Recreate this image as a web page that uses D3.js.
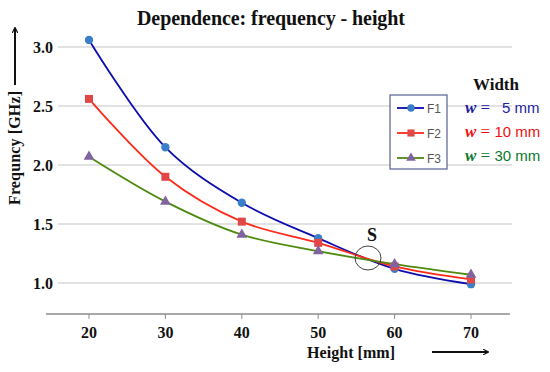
<!DOCTYPE html>
<html>
<head>
<meta charset="utf-8">
<script src="https://cdn.jsdelivr.net/npm/d3@7"></script>
<style>
  body { margin: 0; background: #fff; }
  svg { display: block; }
</style>
</head>
<body>
<svg id="chart" width="550" height="372"></svg>
<script>
// heights (mm) on the x axis
var heights = [20, 30, 40, 50, 60, 70]
var yTicks = [1.0, 1.5, 2.0, 2.5, 3.0]
var seriesNames = ["F1", "F2", "F3"]
var f1 = [3.06, 2.15, 1.68, 1.38, 1.12, 0.99]
var f2 = [2.56, 1.90, 1.52, 1.34, 1.14, 1.03]
var f3 = [2.07, 1.69, 1.41, 1.27, 1.16, 1.07]
var widthLabels = ["5", "10", "30"]

var lineColors = ["#0c0cb0", "#ff2a1a", "#4f8a10"]
var markColors = ["#3a7fc8", "#e04848", "#8064a2"]
var textColors = ["#1c1ca0", "#f01010", "#0b7a2e"]

var svg = d3.select("#chart")
var serif = "'Liberation Serif', 'DejaVu Serif', serif"
var sans = "'Liberation Sans', Arial, sans-serif"

// 20 -> 89px, 70 -> 471px
var x = d3.scaleLinear().domain([20, 70]).range([89, 471])
var y = d3.scaleLinear().domain([1.0, 3.0]).range([283, 47])

var xLeft = 46, xRight = 510, yBottom = 314

// grid lines
svg.selectAll(".grid")
    .data(yTicks).enter()
    .append("line")
        .attr("x1", 58)
        .attr("x2", 512)
        .attr("y1", function(d){ return y(d) })
        .attr("y2", function(d){ return y(d) })
        .style("stroke", "#d9d9d9")
        .style("stroke-width", 1.3)

// x axis line + ticks
svg.append("line")
    .attr("x1", xLeft).attr("x2", xRight)
    .attr("y1", yBottom).attr("y2", yBottom)
    .style("stroke", "#8c8c8c").style("stroke-width", 1.3)

svg.selectAll(".xtick")
    .data(heights).enter()
    .append("line")
        .attr("x1", function(d){ return x(d) })
        .attr("x2", function(d){ return x(d) })
        .attr("y1", yBottom).attr("y2", yBottom + 5)
        .style("stroke", "#8c8c8c")

svg.selectAll(".xlab")
    .data(heights).enter()
    .append("text")
        .attr("x", function(d){ return x(d) })
        .attr("y", 338)
        .attr("text-anchor", "middle")
        .style("font-family", serif)
        .style("font-weight", "bold")
        .style("font-size", "16px")
        .style("fill", "#111")
        .text(function(d){ return d })

svg.selectAll(".ylab")
    .data(yTicks).enter()
    .append("text")
        .attr("x", 53)
        .attr("y", function(d){ return y(d) + 5.5 })
        .attr("text-anchor", "end")
        .style("font-family", serif)
        .style("font-weight", "bold")
        .style("font-size", "16px")
        .style("fill", "#111")
        .text(function(d){ return d.toFixed(1) })

// title
svg.append("text")
    .attr("x", 271).attr("y", 25)
    .attr("text-anchor", "middle")
    .attr("textLength", 268)
    .style("font-family", serif)
    .style("font-weight", "bold")
    .style("font-size", "20px")
    .style("fill", "#111")
    .text("Dependence: frequency - height")

// axis titles
svg.append("text")
    .attr("transform", "translate(20,148) rotate(-90)")
    .attr("text-anchor", "middle")
    .attr("textLength", 114)
    .style("font-family", serif)
    .style("font-weight", "bold")
    .style("font-size", "16px")
    .style("fill", "#111")
    .text("Frequncy [GHz]")

svg.append("text")
    .attr("x", 351).attr("y", 358)
    .attr("text-anchor", "middle")
    .attr("textLength", 88)
    .style("font-family", serif)
    .style("font-weight", "bold")
    .style("font-size", "16px")
    .style("fill", "#111")
    .text("Height [mm]")

// arrows
svg.append("defs").append("marker")
    .attr("id", "arrow")
    .attr("viewBox", "0 0 10 10")
    .attr("refX", 9).attr("refY", 5)
    .attr("markerWidth", 6).attr("markerHeight", 6)
    .attr("markerUnits", "userSpaceOnUse")
    .attr("orient", "auto")
    .append("path")
        .attr("d", "M0,0 L10,5 L0,10")
        .style("fill", "none")
        .style("stroke", "#111")
        .style("stroke-width", 2)

svg.append("line")
    .attr("x1", 15).attr("y1", 85).attr("x2", 15).attr("y2", 28)
    .style("stroke", "#111").style("stroke-width", 2)
    .attr("marker-end", "url(#arrow)")

svg.append("line")
    .attr("x1", 432).attr("y1", 352).attr("x2", 488).attr("y2", 352)
    .style("stroke", "#111").style("stroke-width", 2)
    .attr("marker-end", "url(#arrow)")

// series
var allSeries = [f1, f2, f3]
var line = d3.line()
    .x(function(d, i){ return x(heights[i]) })
    .y(function(d){ return y(d) })
    .curve(d3.curveCatmullRom.alpha(0.5))

allSeries.forEach(function(vals, s) {
    svg.append("path")
        .datum(vals)
        .attr("d", line)
        .style("fill", "none")
        .style("stroke", lineColors[s])
        .style("stroke-width", 1.8)
})

var symbols = [d3.symbolCircle, d3.symbolSquare, d3.symbolTriangle]
var symSizes = [55, 64, 50]

allSeries.forEach(function(vals, s) {
    svg.selectAll(".m" + s)
        .data(vals).enter()
        .append("path")
            .attr("transform", function(d, i){ return "translate(" + x(heights[i]) + "," + y(d) + ")" })
            .attr("d", d3.symbol().type(symbols[s]).size(symSizes[s]))
            .style("fill", markColors[s])
})

// intersection marker "S"
svg.append("ellipse")
    .attr("cx", 368).attr("cy", 258)
    .attr("rx", 13).attr("ry", 12)
    .style("fill", "none")
    .style("stroke", "#444")
    .style("stroke-width", 1)

svg.append("text")
    .attr("x", 372).attr("y", 241)
    .attr("text-anchor", "middle")
    .style("font-family", serif)
    .style("font-weight", "bold")
    .style("font-size", "18px")
    .style("fill", "#111")
    .text("S")

// legend
var lg = svg.append("g")
lg.append("rect")
    .attr("x", 390).attr("y", 95)
    .attr("width", 57).attr("height", 74)
    .style("fill", "#fff")
    .style("stroke", "#55608f")
    .style("stroke-width", 1.2)

var legY = [108, 133, 158]
seriesNames.forEach(function(name, s) {
    lg.append("line")
        .attr("x1", 397).attr("x2", 424)
        .attr("y1", legY[s]).attr("y2", legY[s])
        .style("stroke", lineColors[s]).style("stroke-width", 1.8)
    lg.append("path")
        .attr("transform", "translate(411," + legY[s] + ")")
        .attr("d", d3.symbol().type(symbols[s]).size(symSizes[s] * 0.8))
        .style("fill", markColors[s])
    lg.append("text")
        .attr("x", 427).attr("y", legY[s] + 4.5)
        .style("font-family", sans)
        .style("font-size", "12px")
        .style("fill", "#555")
        .text(name)
})

// width annotation
svg.append("text")
    .attr("x", 496).attr("y", 90)
    .attr("text-anchor", "middle")
    .style("font-family", serif)
    .style("font-weight", "bold")
    .style("font-size", "17px")
    .style("fill", "#111")
    .text("Width")

var wY = [113, 137, 161]
widthLabels.forEach(function(v, s) {
    var t = svg.append("text")
        .attr("x", 465).attr("y", wY[s])
        .style("fill", textColors[s])
    t.append("tspan")
        .style("font-family", serif)
        .style("font-style", "italic")
        .style("font-weight", "bold")
        .style("font-size", "17px")
        .text("w")
    t.append("tspan")
        .style("font-family", serif)
        .style("font-size", "17px")
        .text(" = ")
    t.append("tspan")
        .style("font-family", sans)
        .style("font-size", "15px")
        .text((v.length < 2 ? "\u2002" : "") + v + " mm")
})
</script>
</body>
</html>
